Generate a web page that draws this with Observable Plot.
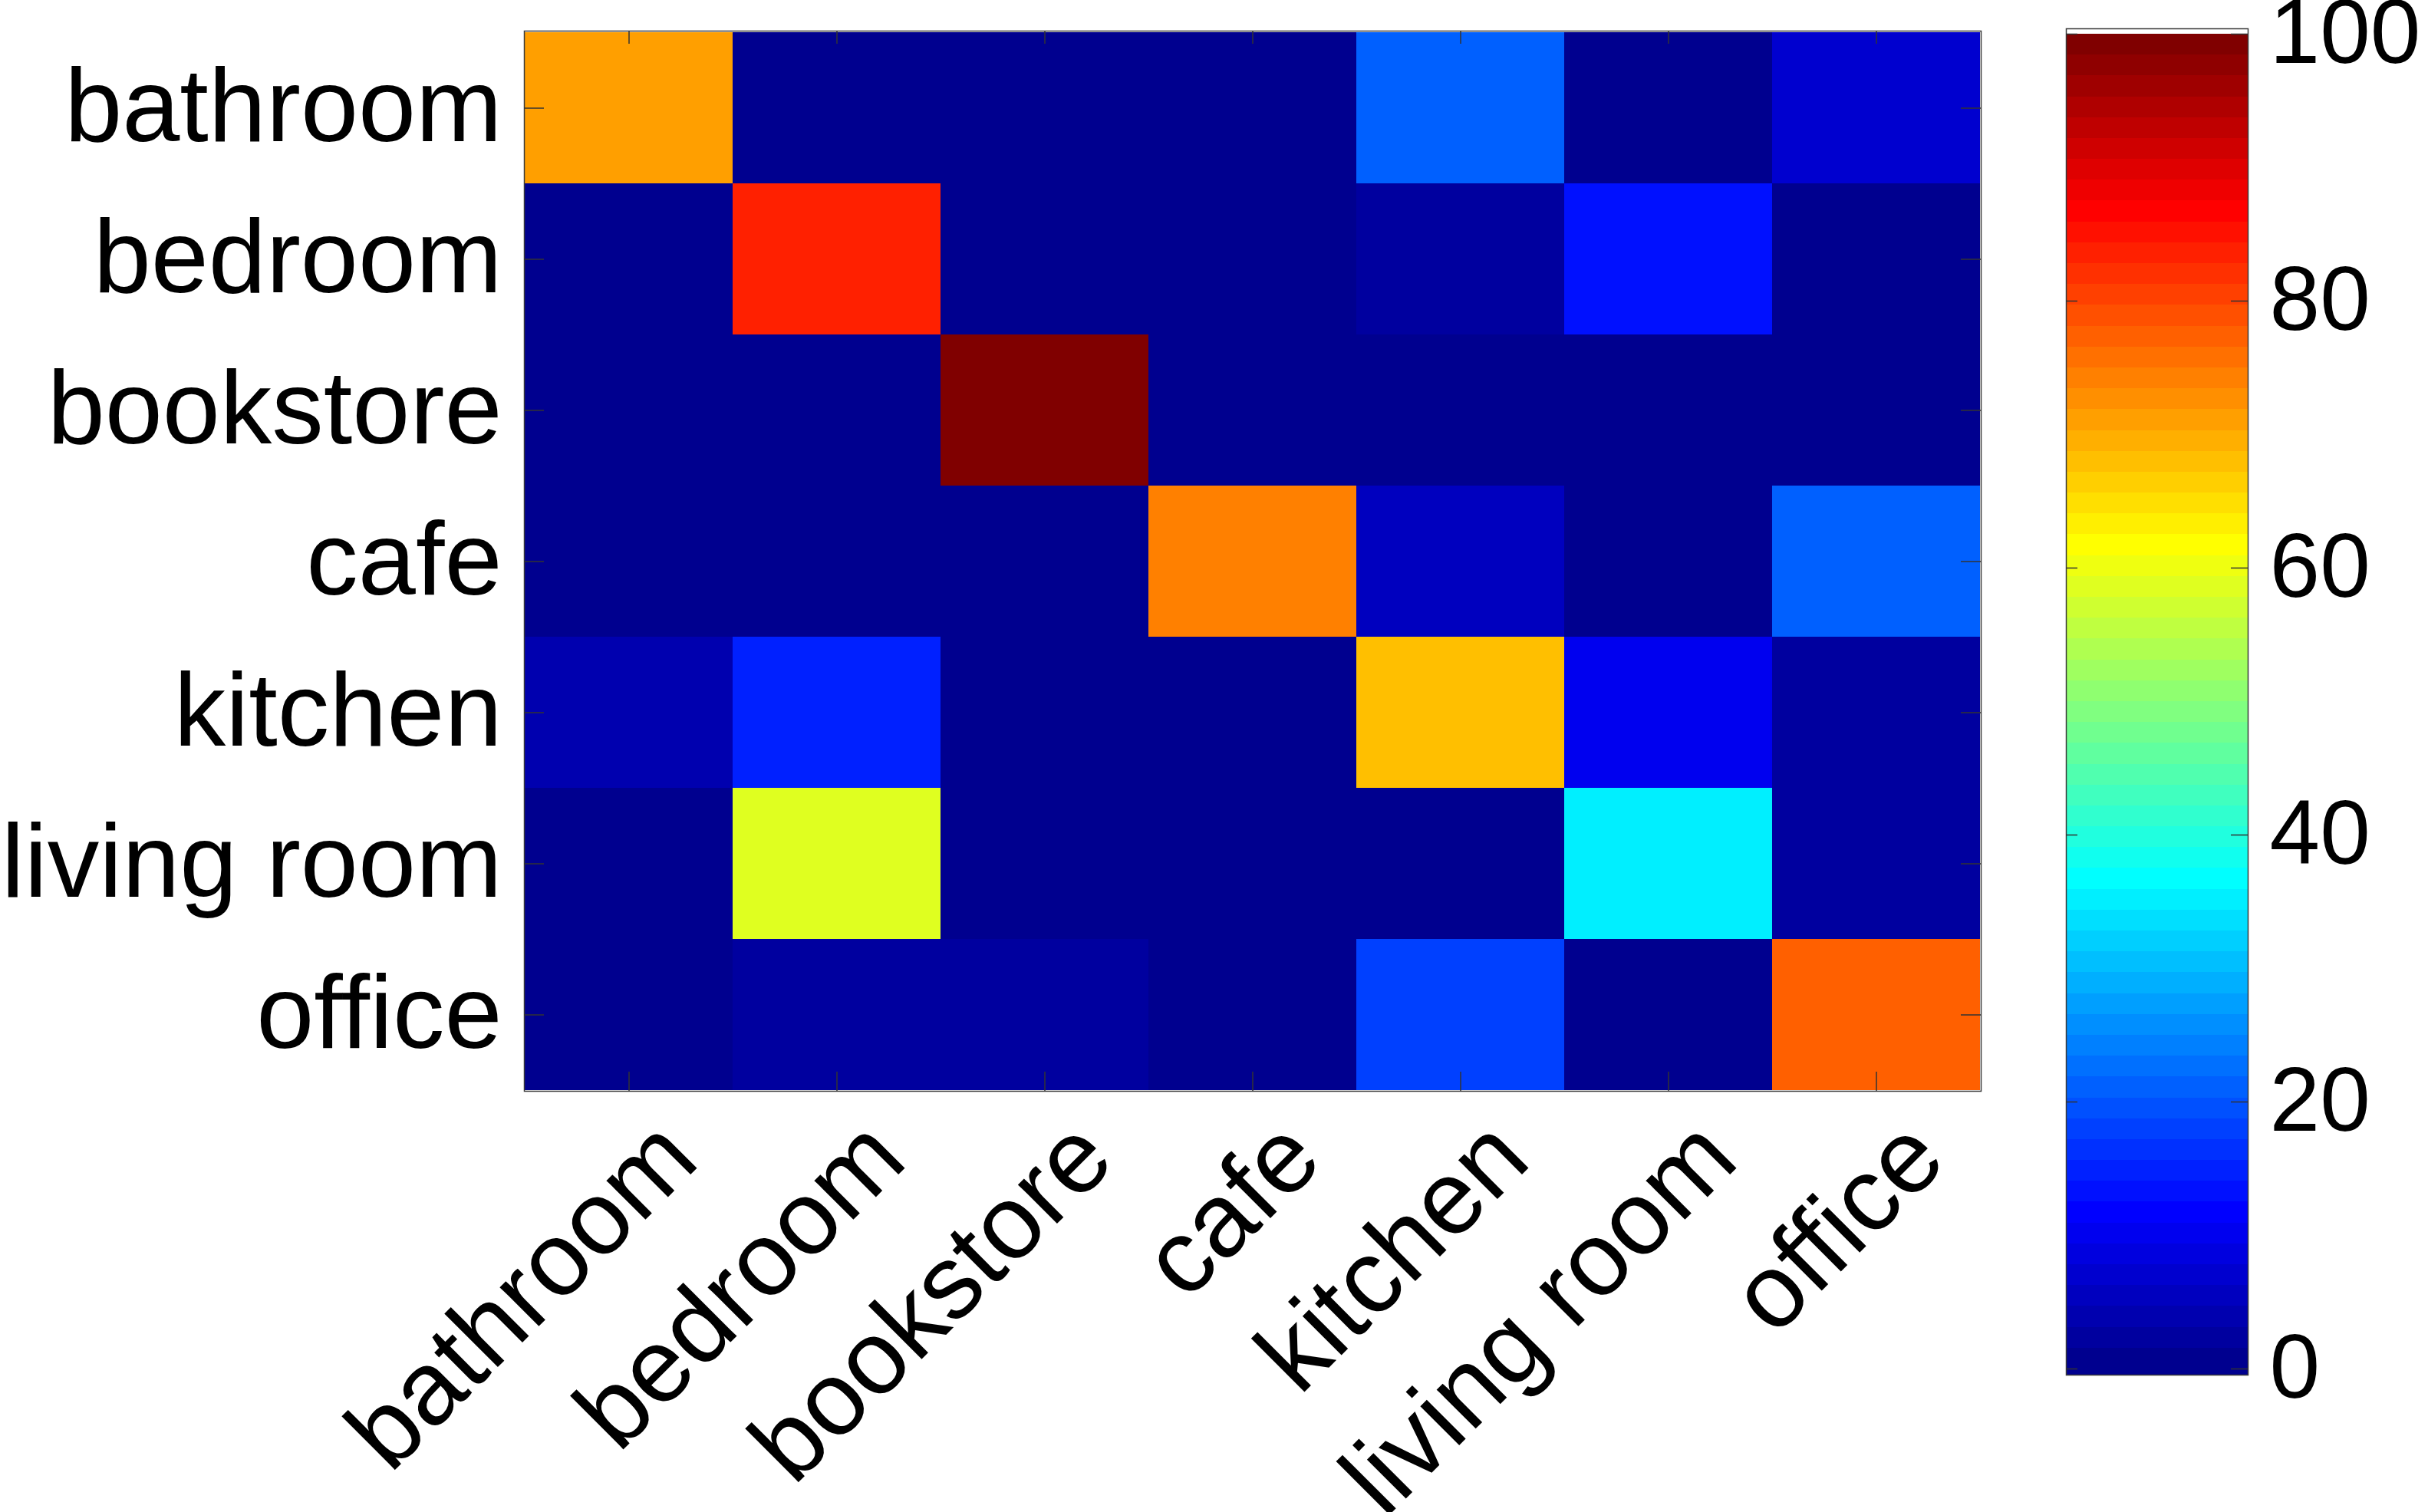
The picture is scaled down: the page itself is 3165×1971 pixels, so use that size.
<!DOCTYPE html>
<html>
<head>
<meta charset="utf-8">
<script src="https://cdn.jsdelivr.net/npm/d3@7"></script>
<script src="https://cdn.jsdelivr.net/npm/@observablehq/plot@0.6"></script>
<style>
html, body { margin: 0; padding: 0; background: #fff; }
#chart { position: relative; width: 3165px; height: 1971px; overflow: hidden; background: #fff; }
#chart svg { position: absolute; top: 0; }
</style>
</head>
<body>
<div id="chart"></div>
<script>
// ---- Data (percent of each actual class) ----
const categories = ["bathroom", "bedroom", "bookstore", "cafe", "kitchen", "living room", "office"];
const bathroomRow  = [71,   0,    0,   0,   21,  0,  7];
const bedroomRow   = [0,    83.5, 0,   0,   2,   13, 0];
const bookstoreRow = [0,    0,    100, 0,   0,   0,  0];
const cafeRow      = [0,    0,    0,   74,  5.5, 0,  21];
const kitchenRow   = [4,    15,   0,   0,   68,  10, 2];
const livingRow    = [0,    58.5, 0,   0,   0,   35, 2];
const officeRow    = [0,    2,    2,   0,   18,  0,  77];
const colorbarTicks = [0, 20, 40, 60, 80, 100];

const rows = [bathroomRow, bedroomRow, bookstoreRow, cafeRow, kitchenRow, livingRow, officeRow];
const table = rows.flatMap((row, i) => row.map((v, j) => ({actual: categories[i], predicted: categories[j], value: v})));

// MATLAB jet(64) colormap
const clamp01 = v => Math.max(0, Math.min(1, v));
function jet(t) {
  const r = clamp01(1.5 - Math.abs(4 * t - 3));
  const g = clamp01(1.5 - Math.abs(4 * t - 2));
  const b = clamp01(1.5 - Math.abs(4 * t - 1));
  return `rgb(${Math.round(r * 255)},${Math.round(g * 255)},${Math.round(b * 255)})`;
}
const jet64 = t => {
  const k = Math.min(64, Math.floor(clamp01(t) * 64) + 1);
  return jet(k / 64);
};
const colorOptions = {type: "linear", domain: [0, 100], interpolate: jet64, clamp: true};

const font = "'Liberation Sans', Arial, Helvetica, sans-serif";

// ---- Main matrix ----
const W = 2650, H = 1971;
const mL = 683, mR = 68, mT = 40, mB = 549;
const frameW = W - mL - mR, frameH = H - mT - mB;

const main = Plot.plot({
  width: W, height: H,
  marginLeft: mL, marginRight: mR, marginTop: mT, marginBottom: mB,
  style: {fontFamily: font, background: "white", color: "black", overflow: "visible"},
  x: {type: "band", domain: categories, padding: 0, axis: null},
  y: {type: "band", domain: categories, padding: 0},
  color: colorOptions,
  marks: [
    Plot.cell(table, {x: "predicted", y: "actual", fill: "value", inset: 0, shapeRendering: "crispEdges"}),
    Plot.frame({stroke: "#3a3a3a", strokeWidth: 1.5}),
    Plot.tickX(categories, {x: d => d, insetBottom: frameH - 17, stroke: "#333", strokeWidth: 1.5}),
    Plot.tickX(categories, {x: d => d, insetTop: frameH - 25, stroke: "#333", strokeWidth: 1.5}),
    Plot.tickY(categories, {y: d => d, insetRight: frameW - 26, stroke: "#333", strokeWidth: 1.5}),
    Plot.tickY(categories, {y: d => d, insetLeft: frameW - 26, stroke: "#333", strokeWidth: 1.5}),
    Plot.axisY({anchor: "left", tickSize: 0, tickPadding: 29, fontSize: 135, label: null, fill: "black"}),
    Plot.text(categories, {
      x: d => d, text: d => d, frameAnchor: "bottom",
      rotate: -45, textAnchor: "end", lineAnchor: "middle",
      dx: 64, dy: 63, fontSize: 136, fill: "black"
    })
  ]
});
main.style.left = "0px";
document.getElementById("chart").appendChild(main);

// ---- Colorbar ----
const CW = 515;
const cL = 43, cR = 235, cT = 37, cB = 1971 - 1792;
const cbFrameW = CW - cL - cR;
const bands = d3.range(64).map(i => ({
  lo: i === 0 ? -0.46 : i * 100 / 64,
  hi: (i + 1) * 100 / 64,
  mid: (i + 0.5) * 100 / 64
}));

const bar = Plot.plot({
  width: CW, height: H,
  marginLeft: cL, marginRight: cR, marginTop: cT, marginBottom: cB,
  style: {fontFamily: font, background: "transparent", color: "black", overflow: "visible"},
  x: {domain: [0, 1], axis: null},
  y: {domain: [-0.46, 100.4], axis: null},
  color: colorOptions,
  marks: [
    Plot.rect(bands, {x1: 0, x2: 1, y1: "lo", y2: "hi", fill: "mid", shapeRendering: "crispEdges"}),
    Plot.frame({stroke: "#3a3a3a", strokeWidth: 1.5}),
    Plot.tickY(colorbarTicks, {y: d => d, insetRight: cbFrameW - 15, stroke: "#333", strokeWidth: 1.5}),
    Plot.tickY(colorbarTicks, {y: d => d, insetLeft: cbFrameW - 22, stroke: "#333", strokeWidth: 1.5}),
    Plot.axisY({anchor: "right", ticks: colorbarTicks, tickFormat: d => String(d), tickSize: 0, tickPadding: 28, fontSize: 118, label: null, fill: "black"})
  ]
});
bar.style.left = "2650px";
document.getElementById("chart").appendChild(bar);
</script>
</body>
</html>
